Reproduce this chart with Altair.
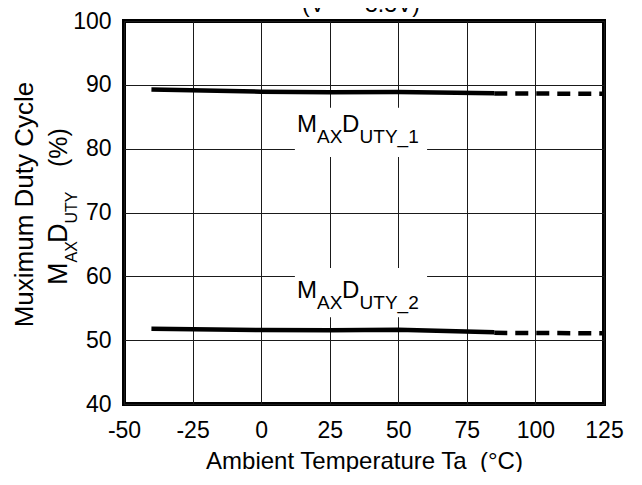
import altair as alt
import pandas as pd

# ---- data ----
temp_solid = [-40, 0, 25, 50, 85]
duty1_solid = [89.25, 88.93, 88.83, 88.88, 88.68]
duty2_solid = [51.80, 51.59, 51.54, 51.65, 51.23]
temp_dash = [85, 125]
duty1_dash = [88.65, 88.60]
duty2_dash = [51.15, 51.07]

x_ticks = [-50, -25, 0, 25, 50, 75, 100, 125]
y_ticks = [40, 50, 60, 70, 80, 90, 100]

label_suffix = ["UTY_1", "UTY_2"]
label_x = [13.1, 13.1]
label_y = [82.6, 56.6]
box_x1 = [12.3, 12.3]
box_x2 = [60.5, 60.5]
box_y1 = [78.7, 53.6]
box_y2 = [86.4, 61.3]

FONT = "Liberation Sans"

xs = alt.Scale(domain=[-50, 125], nice=False, zero=False)
ys = alt.Scale(domain=[40, 100], nice=False, zero=False)

solid_rows = []
for t, a, b in zip(temp_solid, duty1_solid, duty2_solid):
    solid_rows.append({"t": t, "v": a, "s": "1"})
    solid_rows.append({"t": t, "v": b, "s": "2"})
dash_rows = []
for t, a, b in zip(temp_dash, duty1_dash, duty2_dash):
    dash_rows.append({"t": t, "v": a, "s": "1"})
    dash_rows.append({"t": t, "v": b, "s": "2"})
df_solid = pd.DataFrame(solid_rows)
df_dash = pd.DataFrame(dash_rows)

x_axis = alt.Axis(
    values=x_ticks, title="Ambient Temperature Ta\u00a0\u00a0(°C)", grid=True, ticks=False,
    domain=False, labelFontSize=23, labelPadding=15, labelColor="black",
    labelExpr="'' + datum.value",
    titleFontSize=24, titleFontWeight="normal", titleColor="black",
    titleX=240, titleY=64, titleAlign="center", titleBaseline="alphabetic",
    labelFlush=False,
)
y_axis = alt.Axis(
    values=y_ticks, title="Muximum Duty Cycle", grid=True, ticks=False,
    domain=False, labelFontSize=23, labelPadding=13, labelColor="black",
    labelExpr="'' + datum.value",
    titleFontSize=26, titleFontWeight="normal", titleColor="black",
    titleX=-92, titleY=183, titleAngle=270, titleAlign="center",
    titleBaseline="alphabetic", labelFlush=False,
)

solid = alt.Chart(df_solid).mark_line(color="black", strokeWidth=4.5).encode(
    x=alt.X("t:Q", scale=xs, axis=x_axis),
    y=alt.Y("v:Q", scale=ys, axis=y_axis),
    detail="s:N",
)
dashed = alt.Chart(df_dash).mark_line(
    color="black", strokeWidth=4.5, strokeDash=[13, 8]
).encode(
    x=alt.X("t:Q", scale=xs),
    y=alt.Y("v:Q", scale=ys),
    detail="s:N",
)

df_box = pd.DataFrame({"t": box_x1, "t2": box_x2, "v": box_y1, "v2": box_y2})
boxes = alt.Chart(df_box).mark_rect(color="white").encode(
    x=alt.X("t:Q", scale=xs), x2="t2:Q",
    y=alt.Y("v:Q", scale=ys), y2="v2:Q",
)

layers = [boxes, solid, dashed]

# in-plot labels M_AX D_UTY_n
pieces = [
    (["M", "M"], 24, 0, 0),
    (["AX", "AX"], 19, 20, 11),
    (["D", "D"], 24, 45, 0),
    (label_suffix, 19, 62.5, 11),
]
for texts, size, dx, dy in pieces:
    dfp = pd.DataFrame({"t": label_x, "v": label_y, "txt": texts})
    layers.append(
        alt.Chart(dfp).mark_text(
            font=FONT, fontSize=size, align="left", baseline="alphabetic",
            dx=dx, dy=dy, color="black",
        ).encode(
            x=alt.X("t:Q", scale=xs), y=alt.Y("v:Q", scale=ys), text="txt:N"
        )
    )

# second line of the y-axis title with subscripts
ytitle_pieces = [
    ("M", 27, 0, 0),
    ("AX", 16, 22.5, 10),
    ("D", 27, 42, 0),
    ("UTY", 16, 61.5, 10),
    ("(%)", 25, 118, 0),
]
for txt, size, dx, dy in ytitle_pieces:
    layers.append(
        alt.Chart(pd.DataFrame({"txt": [txt]})).mark_text(
            font=FONT, fontSize=size, align="left", baseline="alphabetic",
            angle=270, dx=dx, dy=dy, color="black",
        ).encode(x=alt.value(-57), y=alt.value(264), text="txt:N")
    )

# heading at top (cut off by the top edge, as in the reference)
for txt, align, xpos in [("(V", "left", 178), ("=3.3V)", "right", 296)]:
    layers.append(
        alt.Chart(pd.DataFrame({"txt": [txt]})).mark_text(
            font=FONT, fontSize=23, align=align, baseline="alphabetic", color="black",
        ).encode(x=alt.value(xpos), y=alt.value(-9), text="txt:N")
    )

chart = alt.layer(*layers).properties(
    width=480, height=383,
    autosize=alt.AutoSizeParams(type="none"),
    padding={"left": 116, "top": 13, "right": 30, "bottom": 68},
    background="white",
).configure(font=FONT).configure_view(
    stroke="black", strokeWidth=4
).configure_axis(
    gridColor="#1a1a1a", gridWidth=1, gridOpacity=1, labelFont=FONT, titleFont=FONT
)

chart.save("out.html", embed_options={"renderer": "svg", "actions": False})
